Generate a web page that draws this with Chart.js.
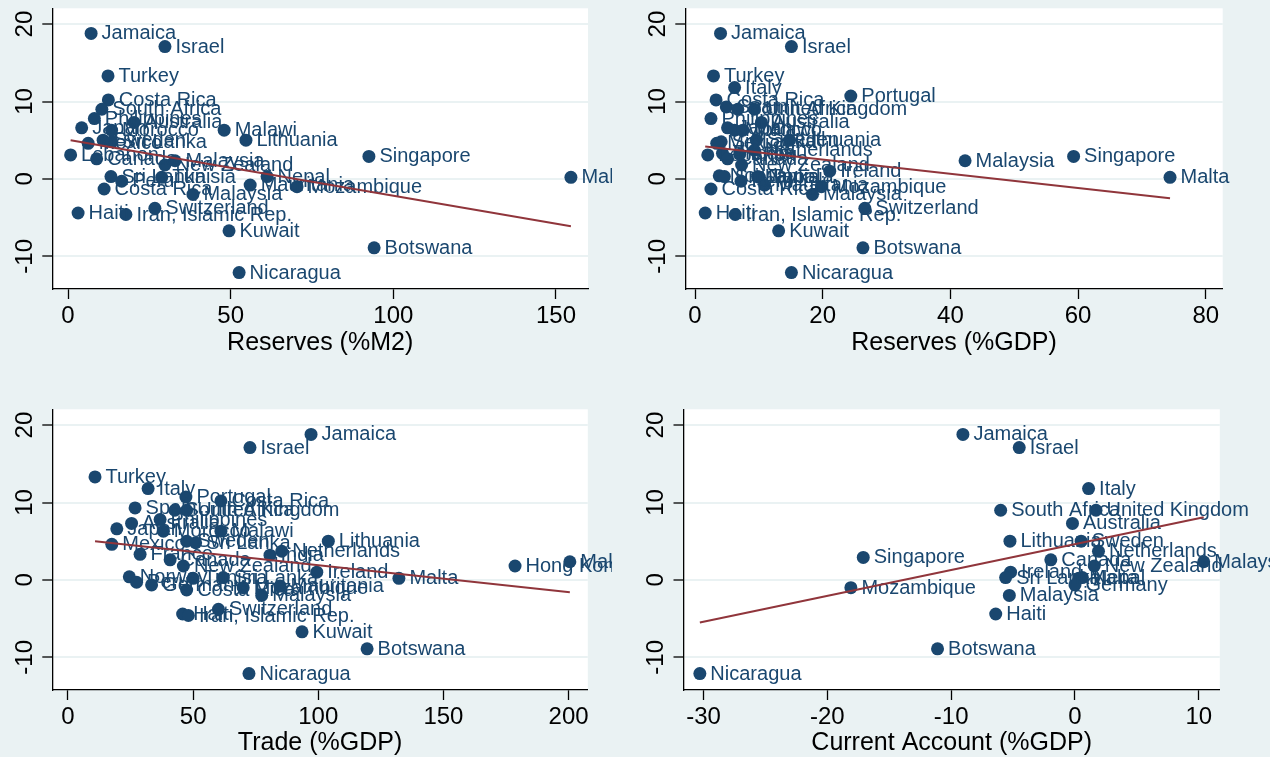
<!DOCTYPE html>
<html><head><meta charset="utf-8">
<script src="https://cdn.jsdelivr.net/npm/chart.js@4"></script>
<style>
html,body{margin:0;padding:0;background:#eaf2f3;width:1270px;height:757px;overflow:hidden}
canvas{position:absolute;display:block}
</style></head><body>
<canvas id="c1" width="612" height="378" style="left:0px;top:0px;width:612px;height:378px"></canvas>
<canvas id="c2" width="658" height="378" style="left:612px;top:0px;width:658px;height:378px"></canvas>
<canvas id="c3" width="612" height="379" style="left:0px;top:378px;width:612px;height:379px"></canvas>
<canvas id="c4" width="658" height="379" style="left:612px;top:378px;width:658px;height:379px"></canvas>
<script>
const countries = [
 "Jamaica","Israel","Turkey","Italy","Portugal","Costa Rica","Spain","South Africa","United Kingdom","Philippines",
 "Australia","Japan","Morocco","Malawi","Lithuania","Sweden","Sri Lanka","Mexico","Netherlands","France",
 "India","Lebanon","Singapore","Canada","Malaysia","New Zealand","Hong Kong","Ireland","Norway","Nepal",
 "Sri Lanka","Tunisia","Malta","Peru","Germany","Mauritania","Mozambique","Costa Rica","Malaysia","Switzerland",
 "Haiti","Iran, Islamic Rep.","Kuwait","Botswana","Nicaragua"];
const outcome = [18.8,17.1,13.3,11.8,10.7,10.2,9.3,9.0,9.0,7.8,
 7.3,6.6,6.3,6.3,5.0,5.0,4.8,4.6,3.7,3.3,
 3.2,3.1,2.9,2.6,2.35,1.8,1.8,1.0,0.4,0.3,
 0.3,0.2,0.2,-0.3,-0.65,-0.8,-1.0,-1.3,-2.0,-3.8,
 -4.4,-4.6,-6.7,-8.9,-12.1];
const reservesM2 = [7.1,29.8,12.3,null,null,12.4,null,10.4,null,8.1,
 20.3,4.2,13.4,48.0,54.7,10.8,13.5,6.2,null,null,
 null,0.8,92.5,8.8,32.9,29.8,null,null,null,61.2,
 13.2,28.8,154.6,16.5,null,56.0,70.4,11.1,38.4,26.7,
 3.1,17.8,49.5,94.1,52.6];
const reservesGDP = [4.0,15.1,2.9,6.2,24.4,3.3,4.9,6.7,9.3,2.5,
 10.4,5.1,6.2,7.5,14.8,9.6,4.1,3.4,9.3,4.3,
 7.0,2.0,59.3,5.1,42.3,7.3,null,21.1,3.8,9.8,
 4.6,10.1,74.4,7.2,null,10.9,19.8,2.5,18.4,26.6,
 1.6,6.3,13.1,26.3,15.1];
const tradeGDP = [97.1,72.7,10.8,32.0,47.1,61.1,26.8,42.7,47.4,36.8,
 25.4,19.5,38.1,61.1,104.0,47.4,51.0,17.5,85.4,28.8,
 80.7,null,null,40.8,200.5,46.1,178.6,99.4,24.5,null,
 62.0,50.0,132.2,27.4,33.4,84.7,70.0,47.4,77.4,60.1,
 45.8,48.1,93.5,119.5,72.3];
const currentAccount = [-9.05,-4.5,null,1.1,null,null,null,-6.0,1.7,null,
 -0.2,null,null,null,-5.25,0.5,null,null,1.9,null,
 null,null,-17.1,-1.95,10.4,1.56,null,-5.2,null,0.6,
 -5.6,null,0.3,null,0.0,null,-18.1,null,-5.3,null,
 -6.4,null,null,-11.1,-30.3];
const fitM2X = [0.8, 154.6], fitM2Y = [5.0, -6.1];
const fitGdpX = [1.6, 74.4], fitGdpY = [4.2, -2.5];
const fitTradeX = [10.8, 200.5], fitTradeY = [5.0, -1.6];
const fitCaX = [-30.3, 10.4], fitCaY = [-5.5, 8.1];
const yTicks = [-10, 0, 10, 20];
const m2Ticks = [0, 50, 100, 150];
const gdpTicks = [0, 20, 40, 60, 80];
const tradeTicks = [0, 50, 100, 150, 200];
const caTicks = [-30, -20, -10, 0, 10];

const NAVY = '#1a476f', MAROON = '#90353b', GRID = '#eaf2f3';
const NARROW = "'Liberation Sans Narrow','Arial Narrow','Liberation Sans',Arial,sans-serif";
const LABELFONT = "20px 'Liberation Sans',Arial,sans-serif";

function makePanel(id, xs, title, xMin, xMax, xTicks, fx, fy, g) {
  const pts = [], names = [];
  xs.forEach((v, i) => { if (v !== null) { pts.push({x: v, y: outcome[i]}); names.push(countries[i]); } });
  const labelPlugin = {
    id: 'mlabels',
    beforeDraw(chart) {
      const a = chart.chartArea, c = chart.ctx;
      c.save(); c.fillStyle = '#ffffff'; c.fillRect(a.left, a.top, a.right - a.left, a.bottom - a.top); c.restore();
    },
    afterDatasetDraw(chart, args) {
      if (args.index !== 0) return;
      const c = chart.ctx;
      c.save();
      c.font = LABELFONT; c.fillStyle = NAVY; c.textBaseline = 'middle'; c.textAlign = 'left';
      args.meta.data.forEach((p, i) => c.fillText(names[i], p.x + 10.5, p.y + 0.5));
      c.restore();
    }
  };
  new Chart(document.getElementById(id), {
    type: 'scatter',
    data: { datasets: [
      { data: pts, order: 1, pointRadius: 6.5, pointHoverRadius: 6.5, pointBackgroundColor: NAVY, pointBorderWidth: 0, borderColor: NAVY },
      { data: fx.map((x, i) => ({x: x, y: fy[i]})), order: 0, showLine: true, pointRadius: 0, borderColor: MAROON, borderWidth: 2, fill: false }
    ]},
    options: {
      responsive: false, animation: false, events: [],
      layout: { padding: { top: g.padTop, right: g.padRight, left: 0, bottom: 0 } },
      plugins: { legend: { display: false }, tooltip: { enabled: false } },
      scales: {
        x: {
          type: 'linear', min: xMin, max: xMax,
          afterBuildTicks: s => { s.ticks = xTicks.map(v => ({value: v})); },
          afterFit: s => { s.height = g.xHeight; s.paddingLeft = 0; s.paddingRight = 0; },
          ticks: { autoSkip: false, maxRotation: 0, minRotation: 0, padding: 3, color: '#000', font: { family: NARROW, size: 24 } },
          grid: { drawOnChartArea: false, tickColor: '#000', tickLength: 10, tickWidth: 1.3 },
          border: { color: '#000', width: 1.3 },
          title: { display: true, text: title, color: '#000', font: { family: NARROW, size: 25, lineHeight: 1 }, padding: { top: 0, bottom: g.titlePad } }
        },
        y: {
          type: 'linear', min: -14.22, max: 22.04,
          afterBuildTicks: s => { s.ticks = yTicks.map(v => ({value: v})); },
          afterFit: s => { s.width = g.yWidth; s.paddingTop = 0; s.paddingBottom = 0; },
          ticks: { autoSkip: false, minRotation: 90, maxRotation: 90, crossAlign: 'center', padding: 0, color: '#000', font: { family: NARROW, size: 24 } },
          grid: { color: GRID, lineWidth: 2, tickColor: '#000', tickLength: 10, tickWidth: 1.3 },
          border: { color: '#000', width: 1.3 }
        }
      }
    },
    plugins: [labelPlugin]
  });
}

makePanel('c1', reservesM2, 'Reserves (%M2)', -4.83, 159.85, m2Ticks, fitM2X, fitM2Y,
  { padTop: 8.3, padRight: 24, xHeight: 89, yWidth: 52.3, titlePad: 22.5 });
makePanel('c2', reservesGDP, 'Reserves (%GDP)', -1.52, 82.65, gdpTicks, fitGdpX, fitGdpY,
  { padTop: 8.3, padRight: 47.3, xHeight: 89, yWidth: 73.3, titlePad: 22.5 });
makePanel('c3', tradeGDP, 'Trade (%GDP)', -6.27, 207.67, tradeTicks, fitTradeX, fitTradeY,
  { padTop: 31.3, padRight: 24.2, xHeight: 67, yWidth: 52.3, titlePad: 1 });
makePanel('c4', currentAccount, 'Current Account (%GDP)', -31.62, 11.70, caTicks, fitCaX, fitCaY,
  { padTop: 31.3, padRight: 50.2, xHeight: 67, yWidth: 71.5, titlePad: 1 });
</script>
</body></html>
